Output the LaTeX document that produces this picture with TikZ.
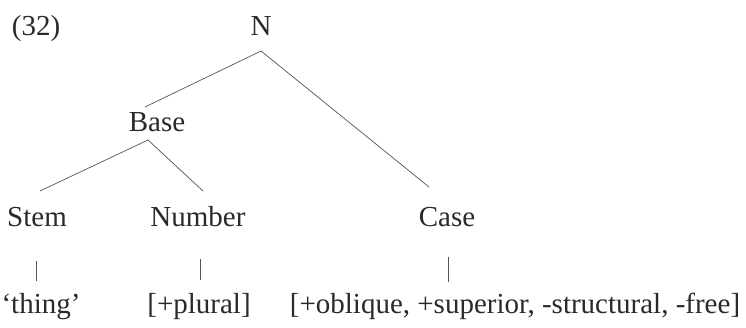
\documentclass[tikz,border=0pt]{standalone}
\usepackage{fontspec}
\setmainfont{Liberation Serif}
\definecolor{ink}{HTML}{2A2A2A}
\definecolor{edge}{HTML}{555555}
\begin{document}
\begin{tikzpicture}[x=1pt,y=-1pt,
  lab/.style={anchor=base,inner sep=0pt,text=ink,font=\fontsize{29}{35}\selectfont},
  branch/.style={draw=edge,line width=0.7pt}]
\useasboundingbox[fill=white] (0,0) rectangle (746,328);
\node[lab] (ex) at (36,36) {(32)};
\node[lab] (N) at (261,36) {N};
\node[lab] (Base) at (157,132) {Base};
\node[lab] (Stem) at (37,227) {Stem};
\node[lab] (Number) at (198,227) {Number};
\node[lab] (Case) at (447,227) {Case};
\node[lab] (thing) at (41,313) {‘thing’};
\node[lab] (plural) at (199,313) {[+plural]};
\node[lab] (feat) at (515,313) {[+oblique, +superior, -structural, -free]};
% connector end points
\coordinate (Nbot) at (261,51);
\coordinate (BaseL) at (145,107);
\coordinate (CaseT) at (429,187);
\coordinate (Bbot) at (148,140);
\coordinate (StemT) at (40,191);
\coordinate (NumT) at (203,191);
\coordinate (StemB1) at (36,261);
\coordinate (StemB2) at (36,281);
\coordinate (NumB1) at (200,259);
\coordinate (NumB2) at (200,280);
\coordinate (CaseB1) at (448,257);
\coordinate (CaseB2) at (448,282);
\draw[branch] (Nbot) -- (BaseL);
\draw[branch] (Nbot) -- (CaseT);
\draw[branch] (Bbot) -- (StemT);
\draw[branch] (Bbot) -- (NumT);
\draw[branch] (StemB1) -- (StemB2);
\draw[branch] (NumB1) -- (NumB2);
\draw[branch] (CaseB1) -- (CaseB2);
\end{tikzpicture}
\end{document}
